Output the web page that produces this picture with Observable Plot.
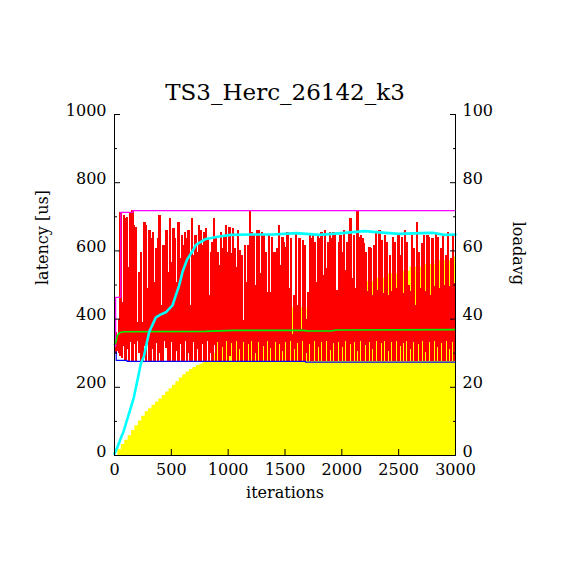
<!DOCTYPE html>
<html><head><meta charset="utf-8">
<script src="https://cdn.jsdelivr.net/npm/d3@7"></script>
<script src="https://cdn.jsdelivr.net/npm/@observablehq/plot@0.6"></script>
<style>body{margin:0;background:#fff}#chart{width:570px;height:570px}</style>
</head><body><div id="chart"></div>
<script>
const title = "TS3_Herc_26142_k3";
const xLabel = "iterations";
const yLabel = "latency [us]";
const y2Label = "loadavg";
const xTicks = [0, 500, 1000, 1500, 2000, 2500, 3000];
const yTicks = [0, 200, 400, 600, 800, 1000];
const yMinor = [100, 300, 500, 700, 900];

// per-sample latency bars (red): sample every 15 iterations
const sampleStep = 15;
const latHigh = [
  360,352,400,713,450,704,694,699,552,713,
  718,674,670,391,538,596,391,684,674,489,
  660,636,655,508,606,636,704,440,616,616,
  660,538,694,567,665,636,508,684,577,645,
  616,655,636,660,440,694,586,645,596,674,
  660,616,655,665,636,469,596,626,694,636,
  596,557,655,606,645,674,596,669,591,665,
  606,552,660,601,586,396,616,508,616,718,
  655,645,498,660,660,533,655,645,596,479,
  645,479,640,596,596,606,674,557,640,626,
  611,655,489,635,355,469,655,440,635,370,
  630,616,400,479,645,635,645,626,508,645,
  635,655,528,660,547,626,655,635,655,645,
  484,626,645,596,660,542,626,655,694,518,
  645,489,718,640,645,635,621,596,480,611,
  606,470,616,655,485,660,630,475,645,626,
  470,586,480,640,626,490,645,586,640,475,
  660,626,500,480,645,606,440,684,596,490,
  621,645,480,645,640,470,635,495,650,640,
  490,606,645,500,586,655,495,577,645,505
];
const latLow = [
  300,305,300,290,285,320,277,310,277,330,
  277,325,277,335,300,277,277,320,277,332,
  277,277,310,277,328,277,300,277,277,334,
  315,277,277,330,277,277,305,277,325,277,
  277,333,277,298,277,277,330,277,312,277,
  277,326,277,277,334,277,300,277,322,277,
  330,277,277,318,277,335,277,290,328,277,
  277,333,277,310,277,330,277,277,325,277,
  335,277,300,277,330,277,277,320,277,334,
  277,315,277,277,332,277,326,277,305,277,
  330,277,277,335,277,312,277,328,277,277,
  334,277,300,277,325,277,277,333,277,318,
  277,330,277,277,335,277,308,277,327,277,
  277,332,277,316,277,334,277,277,326,277,
  330,277,304,277,335,277,277,322,277,331,
  277,312,277,333,277,277,327,277,335,277,
  306,277,330,277,277,334,277,320,277,329,
  277,335,277,310,277,331,277,277,325,277,
  333,277,302,277,330,277,277,335,277,318,
  277,328,277,277,334,277,312,277,330,277
];

// yellow background series (step area)
const yelIter = [0,30,60,90,120,150,180,210,240,270,300,330,360,390,420,450,480,510,540,570,600,630,660,690,720,750,780,810,840,
  870,900,1548,1695,2217,2293,2411,2513,2600,2720,2820,2985,3000];
const yelVal = [0,17,32,45,58,73,87,101,115,128,137,147,157,166,176,186,196,206,216,227,237,245,252,258,264,268,273,276,278,
  300,340,433,340,510,520,533,540,552,560,572,582,582];

// running max (magenta), min (blue), average (green)
const maxIter = [0, 10, 55, 161, 3000];
const maxVal = [320, 464, 713, 718, 718];
const minIter = [0, 15, 110, 1680, 3000];
const minVal = [303, 279, 276, 274, 274];
const avgIter = [0, 12, 25, 45, 80, 800, 1050, 1660, 1700, 1900, 1950, 3000];
const avgVal = [326, 332, 352, 360, 363, 364, 367, 367, 365, 365, 368, 369];

// loadavg (cyan, right axis 0-100)
const loadIter = [0,20,82,170,232,258,305,364,405,452,510,569,598,639,680,716,804,921,1024,1200,1400,1600,1800,2000,2200,2300,2500,2700,2800,2900,3000];
const loadVal = [0.5,2,7.3,17,26.9,29,36.2,40.5,41.3,42,44,49.9,53.8,57.5,59.6,61.8,63.5,64.2,64.7,64.8,64.8,65.2,64.7,65.2,65.8,65.5,65,65.2,65.3,64.7,64.8];

const bars = latHigh.map((h, i) => ({it: sampleStep / 2 + i * sampleStep, hi: h, lo: latLow[i]}));
const yel = yelIter.map((x, i) => ({x, v: yelVal[i]}));
const mx = maxIter.map((x, i) => ({x, v: maxVal[i]}));
const mn = minIter.map((x, i) => ({x, v: minVal[i]}));
const av = avgIter.map((x, i) => ({x, v: avgVal[i]}));
const ld = loadIter.map((x, i) => ({x, v: loadVal[i]}));
const loadToLat = 10;
const fmt = d => String(d);

const font = "DejaVu Serif";
const chart = Plot.plot({
  width: 570, height: 570,
  marginLeft: 114, marginRight: 115, marginTop: 114, marginBottom: 115,
  x: {domain: [0, 3000]},
  y: {domain: [0, 1000]},
  style: {fontFamily: font, fontSize: "16px", background: "white", color: "black"},
  marks: [
    Plot.areaY(yel, {x: "x", y: "v", curve: "step-after", fill: "#ffff00"}),
    Plot.ruleX(bars, {x: "it", y1: "lo", y2: "hi", stroke: "#ff0000", strokeWidth: 2.4, shapeRendering: "crispEdges"}),
    Plot.line(mn, {x: "x", y: "v", curve: "step-after", stroke: "#0000ff", strokeWidth: 1.2}),
    Plot.line(mx, {x: "x", y: "v", curve: "step-after", stroke: "#ff00ff", strokeWidth: 1.2}),
    Plot.line(av, {x: "x", y: "v", stroke: "#00f000", strokeWidth: 1.6}),
    Plot.line(ld, {x: "x", y: d => d.v * loadToLat, stroke: "#00ffff", strokeWidth: 2.6}),
    Plot.ruleX([0, 3000], {stroke: "black"}),
    Plot.ruleY([0], {stroke: "black"}),
    Plot.axisX(xTicks, {tickSize: 0, tickPadding: 8, tickFormat: fmt, label: null, fontSize: 16}),
    Plot.axisX(xTicks, {tickSize: -6, tickFormat: () => "", label: null}),
    Plot.axisY(yTicks, {anchor: "left", tickSize: 0, tickPadding: 8, tickFormat: fmt, label: null, fontSize: 16, dy: -4}),
    Plot.axisY(yTicks, {anchor: "left", tickSize: -6, tickFormat: () => "", label: null}),
    Plot.axisY(yMinor, {anchor: "left", tickSize: -3, tickFormat: () => "", label: null}),
    Plot.axisY(yTicks, {anchor: "right", tickSize: 0, tickPadding: 7, tickFormat: d => String(d / loadToLat), label: null, fontSize: 16, dy: -4}),
    Plot.axisY(yTicks, {anchor: "right", tickSize: -6, tickFormat: () => "", label: null}),
    Plot.axisY(yMinor, {anchor: "right", tickSize: -3, tickFormat: () => "", label: null}),
    Plot.text([title], {text: d => d, frameAnchor: "top", dy: -31, fontSize: 23}),
    Plot.text([xLabel], {text: d => d, frameAnchor: "bottom", dy: 42, fontSize: 16, letterSpacing: 1}),
    Plot.text([yLabel], {text: d => d, frameAnchor: "left", dx: -72, rotate: -90, fontSize: 16, letterSpacing: 1}),
    Plot.text([y2Label], {text: d => d, frameAnchor: "right", dx: 63, rotate: 90, fontSize: 16, letterSpacing: 1})
  ]
});
document.getElementById("chart").appendChild(chart);
</script>
</body></html>
